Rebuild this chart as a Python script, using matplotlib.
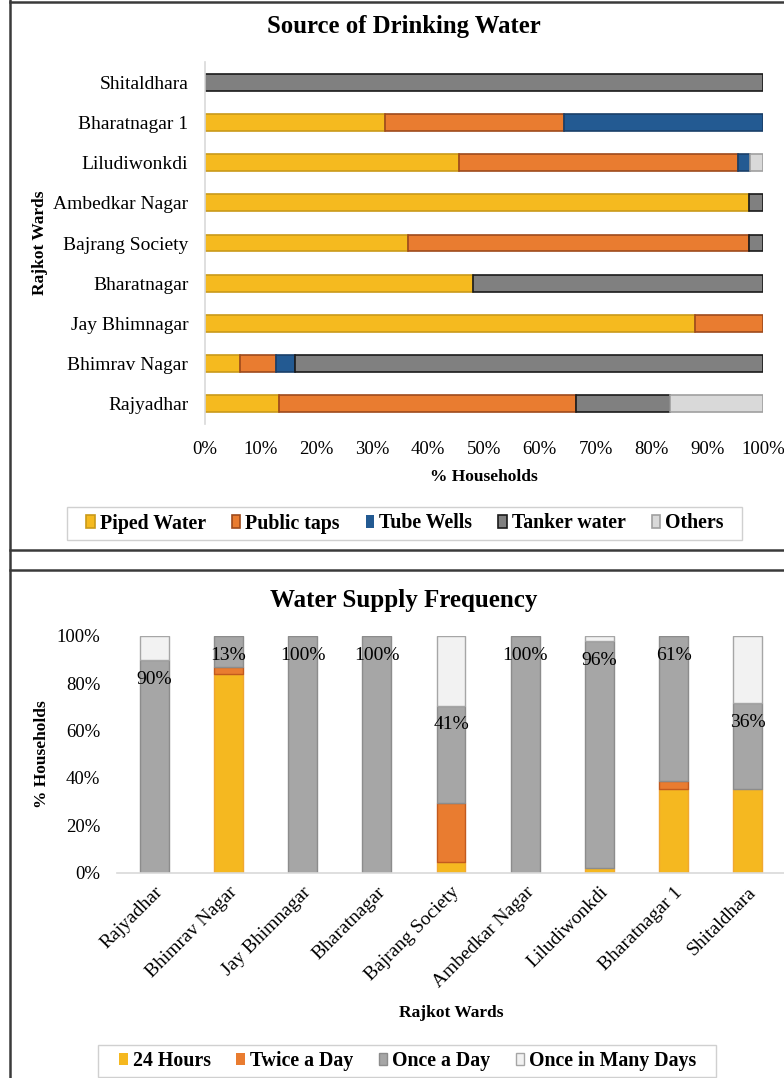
import matplotlib
matplotlib.use("Agg")
import matplotlib.pyplot as plt
from matplotlib.lines import Line2D
from matplotlib.patches import Rectangle
from matplotlib.ticker import FuncFormatter
import matplotlib.transforms as mtransforms
import numpy as np

plt.rcParams['font.family'] = ['Liberation Serif', 'DejaVu Serif']

# ---------------- Data ----------------
wards = ["Rajyadhar", "Bhimrav Nagar", "Jay Bhimnagar", "Bharatnagar",
         "Bajrang Society", "Ambedkar Nagar", "Liludiwonkdi", "Bharatnagar 1",
         "Shitaldhara"]

# Source of drinking water (% households)
piped_water = [13.3, 6.2, 87.9, 48.0, 36.4, 97.5, 45.6, 32.2, 0.0]
public_taps = [53.2, 6.6, 12.1, 0.0, 61.1, 0.0, 49.9, 32.1, 0.0]
tube_wells = [0.0, 3.3, 0.0, 0.0, 0.0, 0.0, 2.2, 35.7, 0.0]
tanker_water = [16.8, 83.9, 0.0, 52.0, 2.5, 2.5, 0.0, 0.0, 100.0]
others = [16.7, 0.0, 0.0, 0.0, 0.0, 0.0, 2.3, 0.0, 0.0]

# Water supply frequency (% households)
hours_24 = [0.0, 84.1, 0.0, 0.0, 4.6, 0.0, 2.0, 35.5, 35.5]
twice_a_day = [0.0, 2.8, 0.0, 0.0, 24.6, 0.0, 0.0, 3.1, 0.0]
once_a_day = [90.0, 13.1, 100.0, 100.0, 41.4, 100.0, 96.0, 61.4, 36.0]
once_many_days = [10.0, 0.0, 0.0, 0.0, 29.4, 0.0, 2.0, 0.0, 28.5]

x_ticks_top = [0, 10, 20, 30, 40, 50, 60, 70, 80, 90, 100]
y_ticks_bot = [0, 20, 40, 60, 80, 100]

# ---------------- Figure ----------------
fig = plt.figure(figsize=(7.84, 10.78), dpi=100)
W, H = 784, 1078


def fx(px):
    return px / W


def fy(py):
    return 1 - py / H


# panel frames
fc = "#3a3a3a"
for (x0, y0, x1, y1) in [(10, 0, 10, H), (10, 2, W + 5, 2), (10, 550, W + 5, 550),
                         (10, 570, W + 5, 570)]:
    fig.add_artist(Line2D([fx(x0), fx(x1)], [fy(y0), fy(y1)], color=fc, lw=1.8))

pct = FuncFormatter(lambda v, p: f"{v:.0f}%")
LEG_FS = 14.3

# ---------------- Top chart ----------------
ax1 = fig.add_axes([fx(205), fy(424), fx(763) - fx(205), fy(62) - fy(424)])
ypos = np.arange(len(wards))
series_top = [
    ("Piped Water", piped_water, "#F5BA1F", "#C99A1A"),
    ("Public taps", public_taps, "#E97C30", "#9E4A1C"),
    ("Tube Wells", tube_wells, "#235A92", "#1A3F68"),
    ("Tanker water", tanker_water, "#808080", "#1a1a1a"),
    ("Others", others, "#D9D9D9", "#A0A0A0"),
]
left = np.zeros(len(wards))
for name, vals, col, ec in series_top:
    vals = np.array(vals)
    lw = [1.2 if v > 0 else 0 for v in vals]
    ax1.barh(ypos, vals, left=left, height=0.42, color=col, edgecolor=ec,
             linewidth=lw, label=name)
    left += vals

ax1.set_xlim(0, 100)
ax1.set_ylim(-0.5, len(wards) - 0.5)
ax1.set_yticks(ypos)
ax1.set_yticklabels(wards, fontsize=14)
ax1.set_xticks(x_ticks_top)
ax1.xaxis.set_major_formatter(pct)
ax1.tick_params(axis='x', labelsize=13.5, length=0, pad=12)
ax1.tick_params(axis='y', length=0, pad=12)
for s in ["top", "right", "bottom"]:
    ax1.spines[s].set_visible(False)
ax1.spines["left"].set_color("#D9D9D9")
ax1.spines["left"].set_linewidth(1.2)
ax1.set_xlabel("% Households", fontsize=12.5, fontweight="bold", labelpad=8)
ax1.set_ylabel("Rajkot Wards", fontsize=12.5, fontweight="bold")
ax1.yaxis.set_label_coords((48 - 205) / (763 - 205), 0.5)
fig.text(fx(404), fy(27), "Source of Drinking Water", fontsize=17.8,
         fontweight="bold", ha="center", va="center")

fig.add_artist(Rectangle((fx(67), fy(540)), fx(742) - fx(67), fy(507) - fy(540),
                         transform=fig.transFigure, fill=False,
                         edgecolor="#D0D0D0", lw=1.0))
fig.legend(*ax1.get_legend_handles_labels(), loc="center",
           bbox_to_anchor=(fx(405), fy(523.5)), ncol=5, frameon=False,
           prop={"size": LEG_FS, "weight": "bold"}, handlelength=0.42,
           handleheight=0.62, handletextpad=0.25, columnspacing=1.32,
           borderpad=0.2)

# ---------------- Bottom chart ----------------
ax2 = fig.add_axes([fx(117), fy(872.5), fx(785) - fx(117), fy(636) - fy(872.5)])
xpos = np.arange(len(wards))
series_bot = [
    ("24 Hours", hours_24, "#F5B820", "#F0A830"),
    ("Twice a Day", twice_a_day, "#E97C30", "#C25A1E"),
    ("Once a Day", once_a_day, "#A6A6A6", "#8C8C8C"),
    ("Once in Many Days", once_many_days, "#F2F2F2", "#A6A6A6"),
]
bottom = np.zeros(len(wards))
for name, vals, col, ec in series_bot:
    vals = np.array(vals)
    lw = [1.0 if v > 0 else 0 for v in vals]
    ax2.bar(xpos, vals, bottom=bottom, width=0.39, color=col, edgecolor=ec,
            linewidth=lw, label=name)
    if name == "Once a Day":
        tops = bottom + vals
        for xi, t, v in zip(xpos, tops, vals):
            ax2.annotate(f"{v:.0f}%", (xi, t), xytext=(0, -14),
                         textcoords="offset points", ha="center", va="center",
                         fontsize=14)
    bottom += vals

ax2.set_xlim(-0.5, len(wards) - 0.5)
ax2.set_ylim(0, 100)
ax2.set_yticks(y_ticks_bot)
ax2.yaxis.set_major_formatter(pct)
ax2.set_xticks(xpos)
ax2.set_xticklabels(wards, rotation=45, ha="right", va="top",
                    rotation_mode="anchor", fontsize=14)
shift = mtransforms.ScaledTranslation(9 / 100, -2 / 100, fig.dpi_scale_trans)
for lab in ax2.get_xticklabels():
    lab.set_transform(lab.get_transform() + shift)
ax2.tick_params(axis='y', labelsize=13.5, length=0, pad=12)
ax2.tick_params(axis='x', length=0, pad=8)
for s in ["top", "right", "left"]:
    ax2.spines[s].set_visible(False)
ax2.spines["bottom"].set_color("#D9D9D9")
ax2.spines["bottom"].set_linewidth(1.2)
ax2.set_xlabel("Rajkot Wards", fontsize=12.5, fontweight="bold")
ax2.xaxis.set_label_coords(0.5, (fy(1005) - fy(872.5)) / (fy(636) - fy(872.5)))
ax2.set_ylabel("% Households", fontsize=12.5, fontweight="bold")
ax2.yaxis.set_label_coords((50 - 117) / (785 - 117), 0.5)
fig.text(fx(404), fy(600), "Water Supply Frequency", fontsize=18,
         fontweight="bold", ha="center", va="center")

fig.add_artist(Rectangle((fx(98), fy(1077)), fx(716) - fx(98), fy(1045) - fy(1077),
                         transform=fig.transFigure, fill=False,
                         edgecolor="#D0D0D0", lw=1.0))
fig.legend(*ax2.get_legend_handles_labels(), loc="center",
           bbox_to_anchor=(fx(408), fy(1061)), ncol=4, frameon=False,
           prop={"size": LEG_FS, "weight": "bold"}, handlelength=0.42,
           handleheight=0.62, handletextpad=0.25, columnspacing=1.3,
           borderpad=0.2)

fig.savefig("out.png", dpi=100)
